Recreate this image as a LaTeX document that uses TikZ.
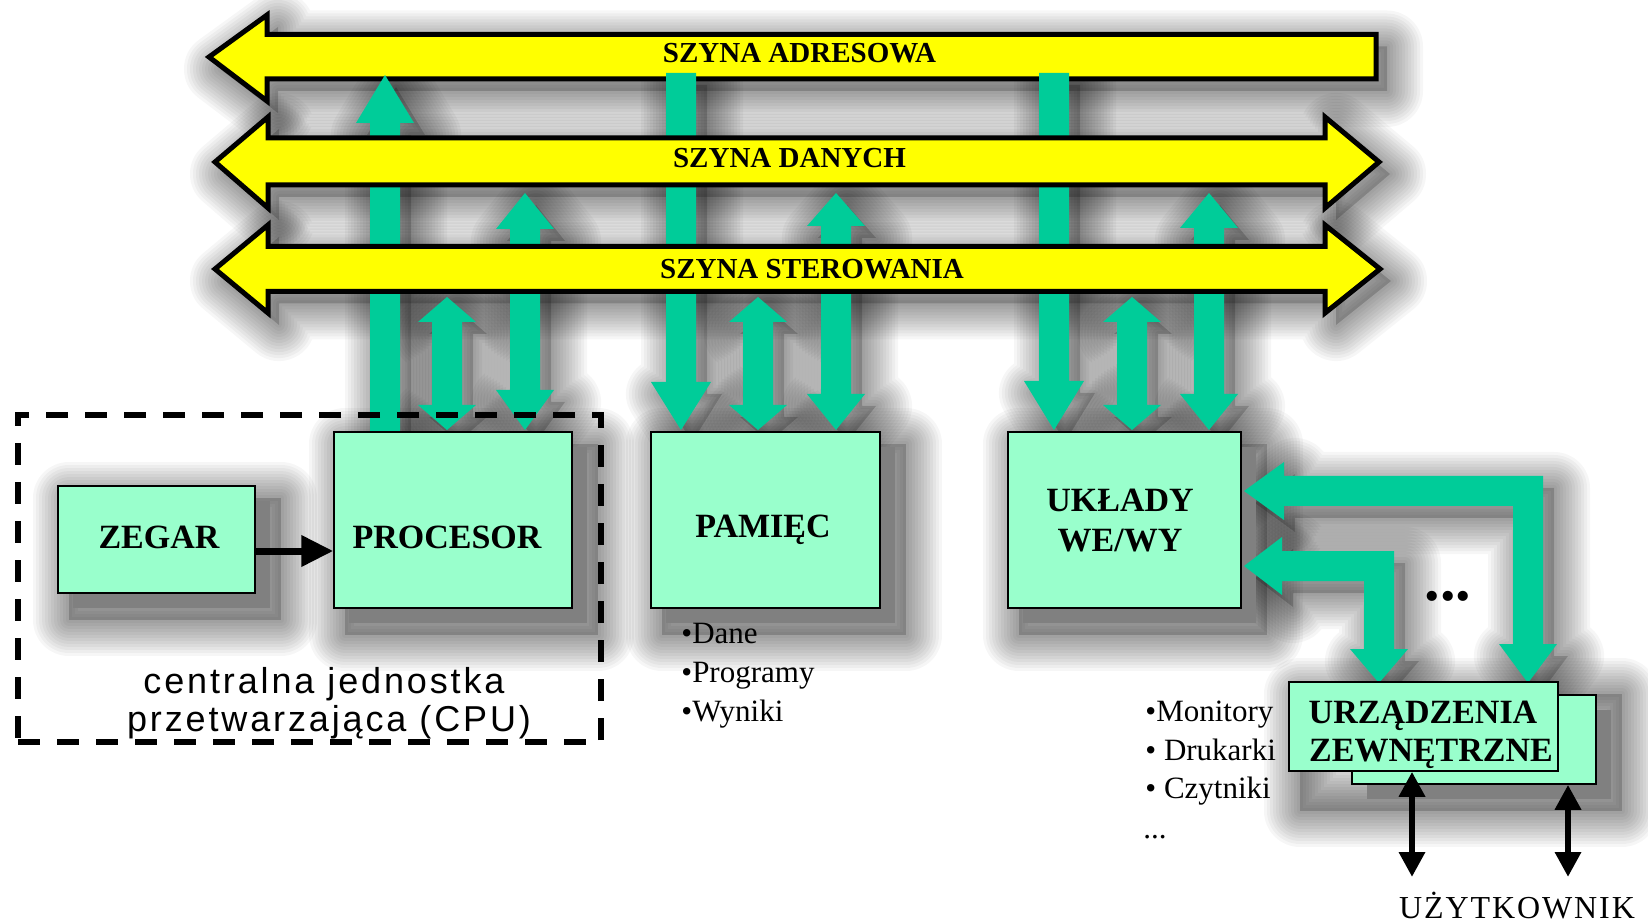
\documentclass[tikz,border=0pt]{standalone}
\usepackage{fontspec}
\setmainfont{Liberation Serif}
\newfontfamily\cpufont[LetterSpace=8]{Liberation Sans}
\newfontfamily\userfont[LetterSpace=6]{Liberation Serif}
\usetikzlibrary{arrows.meta}
\definecolor{busyellow}{HTML}{FFFF00}
\definecolor{arrgreen}{HTML}{00CC99}
\definecolor{boxgreen}{HTML}{99FFCC}
\definecolor{hardshadow}{HTML}{808080}

% vertical fat arrow: x, ytop, ybot, head length top, head half width top, head length bottom, head half width bottom
\newcommand\garrow[7]{({#1},{#2}) -- ({#1+#5},{#2+#4}) -- ({#1+15},{#2+#4}) -- ({#1+15},{#3-#6}) -- ({#1+#7},{#3-#6}) -- ({#1},{#3}) -- ({#1-#7},{#3-#6}) -- ({#1-15},{#3-#6}) -- ({#1-15},{#2+#4}) -- ({#1-#5},{#2+#4}) -- cycle}
\newcommand\shpBusA{(209,57) -- (267,15) -- (267,34.5) -- (1376,34.5) -- (1376,79) -- (267,79) -- (267,101) -- cycle}
\newcommand\shpBusD{(215,162) -- (268,117) -- (268,138) -- (1325,138) -- (1325,117) -- (1379,162) -- (1325,208) -- (1325,185) -- (268,185) -- (268,208) -- cycle}
\newcommand\shpBusC{(215,269) -- (268,225) -- (268,246.5) -- (1325,246.5) -- (1325,225) -- (1380,269) -- (1325,313) -- (1325,291.5) -- (268,291.5) -- (268,313) -- cycle}
\newcommand\shpElbowA{(1244,491) -- (1284,462) -- (1284,476) -- (1543,476) -- (1543,644) -- (1557,644) -- (1528,683) -- (1499,644) -- (1513,644) -- (1513,506) -- (1284,506) -- (1284,520) -- cycle}
\newcommand\shpElbowB{(1244,566) -- (1282,537) -- (1282,551) -- (1394,551) -- (1394,649) -- (1408,649) -- (1379,683) -- (1350,649) -- (1364,649) -- (1364,581) -- (1282,581) -- (1282,595) -- cycle}

\newcommand\softshadow[1]{%
  \fill[black,opacity=0.18,shift={(11,12)}] #1;%
  \foreach \r in {3,6,...,36}{%
    \draw[black,opacity=0.034,line width=\r pt,line join=round,shift={(11,12)}] #1;}%
}
\newcommand\greenfill[1]{\fill[arrgreen] #1;}
\newcommand\forgreen[1]{%
  #1{\garrow{385}{75}{433}{48}{29}{0}{15}}%
  #1{\garrow{447}{297}{430}{25}{29}{25}{29}}%
  #1{\garrow{525}{193}{430}{36}{29}{40}{29}}%
  #1{\garrow{681}{73}{430}{0}{15}{48}{30}}%
  #1{\garrow{758}{297}{430}{25}{29}{25}{29}}%
  #1{\garrow{836}{193}{430}{33}{29}{36}{29}}%
  #1{\garrow{1054}{73}{430}{0}{15}{49}{30}}%
  #1{\garrow{1132}{297}{430}{25}{29}{25}{29}}%
  #1{\garrow{1209}{193}{430}{35}{29}{36}{29}}%
  #1{\shpElbowA}%
  #1{\shpElbowB}%
}

\tikzset{
  box/.style={draw=black, line width=0.75pt, fill=boxgreen, inner sep=0pt},
  bus/.style={fill=busyellow, draw=black, line width=2.5pt},
  boxtext/.style={font=\fontsize{17}{20}\selectfont\bfseries, anchor=base, inner sep=0pt},
  bustext/.style={font=\fontsize{14.5}{18}\selectfont\bfseries, anchor=base, inner sep=0pt},
  listtext/.style={font=\fontsize{15.5}{19}\selectfont, anchor=base west, inner sep=0pt},
  cputext/.style={font=\cpufont\fontsize{18}{21}\selectfont, anchor=base, inner sep=0pt},
  clockarrow/.style={line width=3.5pt, -{Triangle[width=15pt,length=16pt]}},
  userarrow/.style={line width=3.2pt, {Triangle[width=12.5pt,length=12.5pt]}-{Triangle[width=12.5pt,length=12.5pt]}},
  cpuframe/.style={draw=black, line width=2.6pt, dash pattern=on 11pt off 8.5pt, inner sep=0pt},
}

\begin{document}
\begin{tikzpicture}[x=0.5pt,y=-0.5pt]
\useasboundingbox (0,0) rectangle (1648,924);
\fill[white] (0,0) rectangle (1648,924);

% soft shadows
\softshadow{\shpBusA}
\softshadow{\shpBusD}
\softshadow{\shpBusC}
\forgreen\softshadow
\softshadow{(58,486) rectangle (270,608)}
\softshadow{(334,432) rectangle (587,623)}
\softshadow{(651,432) rectangle (895,623)}
\softshadow{(1008,432) rectangle (1256,623)}
\softshadow{(1289,682) rectangle (1611,799)}

% hard box shadows
\fill[hardshadow] (73,501) rectangle (270,608);
\fill[hardshadow] (349,447) rectangle (587,623);
\fill[hardshadow] (666,447) rectangle (895,623);
\fill[hardshadow] (1023,447) rectangle (1256,623);
\fill[hardshadow] (1367,710) rectangle (1611,799);

% address bus, green arrows, data and control buses
\draw[bus] \shpBusA;
\forgreen\greenfill
\draw[bus] \shpBusD;
\draw[bus] \shpBusC;

\node[bustext] (tA) at (799.5,62.5) {SZYNA ADRESOWA};
\node[bustext] (tD) at (789.5,168) {SZYNA DANYCH};
\node[bustext] (tC) at (812,279) {SZYNA STEROWANIA};

% boxes
\node[box, minimum width=98.5pt, minimum height=53.5pt] (zeg) at (156.5,539.5) {};
\node[box, minimum width=119pt, minimum height=88pt] (proc) at (453,520) {};
\node[box, minimum width=114.5pt, minimum height=88pt] (mem) at (765.5,520) {};
\node[box, minimum width=116.5pt, minimum height=88pt] (io) at (1124.5,520) {};
\node[box, minimum width=122pt, minimum height=44.5pt] (dev2) at (1474,739.5) {};
\node[box, minimum width=134.5pt, minimum height=44.5pt] (dev) at (1423.5,726.5) {};

\node[boxtext] (lzeg) at (159,548) {ZEGAR};
\node[boxtext] (lproc) at (447,548) {PROCESOR};
\node[boxtext] (lmem) at (763,538) {PAMIĘC};
\node[boxtext] (lio1) at (1120,511) {UKŁADY};
\node[boxtext] (lio2) at (1120,552) {WE/WY};
\node[boxtext] (ldev1) at (1423,723) {URZĄDZENIA};
\node[boxtext] (ldev2) at (1431,761) {ZEWNĘTRZNE};

% CPU frame
\node[cpuframe, minimum width=291.5pt, minimum height=163.5pt] (cpu) at (309.5,578.5) {};
\node[cputext] (cpu1) at (324,693) {centralna jednostka};
\node[cputext] (cpu2) at (329,731) {przetwarzająca (CPU)};

% clock arrow
\coordinate (clk) at (0,551);
\draw[clockarrow] (zeg.east |- clk) -- (proc.west |- clk);

% lists
\node[listtext] (d1) at (681,643) {•Dane};
\node[listtext] (d2) at (681,682) {•Programy};
\node[listtext] (d3) at (681,721) {•Wyniki};
\node[listtext] (m1) at (1145,721) {•Monitory};
\node[listtext] (m2) at (1145,760) {• Drukarki};
\node[listtext] (m3) at (1145,798) {• Czytniki};
\node[listtext] (m4) at (1143,838) {...};

\node[font=\fontsize{31}{31}\selectfont\bfseries, anchor=base, inner sep=0pt] (dots) at (1448,600) {...};

% user
\node[font=\userfont\fontsize{16}{19}\selectfont, anchor=base, inner sep=0pt] (user) at (1517,918) {UŻYTKOWNIK};
\coordinate (u1) at (1412,877);
\coordinate (u2) at (1568,877);
\draw[userarrow] (dev.south -| u1) -- (u1);
\draw[userarrow] (dev2.south -| u2) -- (u2);
\end{tikzpicture}
\end{document}
